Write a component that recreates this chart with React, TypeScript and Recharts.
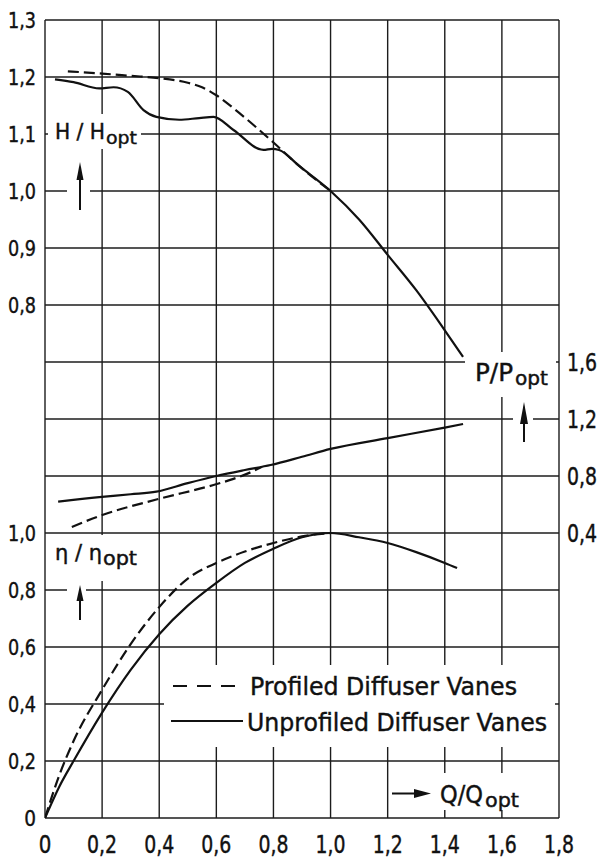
import { LineChart, Line, XAxis, YAxis, CartesianGrid } from 'recharts';

const FONT = "'DejaVu Sans Condensed', 'DejaVu Sans', sans-serif";
const INK = '#111';

// axis ticks
const qTicks = [0, 0.2, 0.4, 0.6, 0.8, 1.0, 1.2, 1.4, 1.6, 1.8];
const hTicks = [0.8, 0.9, 1.0, 1.1, 1.2, 1.3];
const etaTicks = [0, 0.2, 0.4, 0.6, 0.8, 1.0];
const pTicks = [0.4, 0.8, 1.2, 1.6];
const gridRows = [0, 1, 2, 3, 4, 5, 6, 7, 8, 9, 10, 11, 12, 13, 14];

// H/Hopt
const hProfiledQ = [0.08, 0.2, 0.3, 0.4, 0.5, 0.55, 0.6, 0.68, 0.8, 0.89, 1.0];
const hProfiled = [1.21, 1.206, 1.202, 1.198, 1.19, 1.182, 1.168, 1.137, 1.085, 1.044, 1.0];
const hUnprofiledQ = [0.035, 0.1, 0.19, 0.24, 0.29, 0.345, 0.39, 0.47, 0.54, 0.59, 0.66, 0.765, 0.795, 0.82, 0.89, 1.0, 1.1, 1.2, 1.3, 1.394, 1.464];
const hUnprofiled = [1.196, 1.191, 1.18, 1.182, 1.174, 1.142, 1.13, 1.125, 1.128, 1.13, 1.107, 1.072, 1.074, 1.072, 1.044, 1.0, 0.95, 0.888, 0.826, 0.76, 0.709];

// P/Popt
const pProfiledQ = [0.094, 0.19, 0.39, 0.59, 0.66, 0.72, 0.76];
const pProfiled = [0.442, 0.519, 0.635, 0.737, 0.78, 0.826, 0.864];
const pUnprofiledQ = [0.046, 0.19, 0.3, 0.39, 0.5, 0.6, 0.7, 0.79, 0.9, 1.0, 1.2, 1.4, 1.464];
const pUnprofiled = [0.62, 0.652, 0.672, 0.69, 0.75, 0.8, 0.842, 0.877, 0.935, 0.99, 1.066, 1.14, 1.165];

// eta/eta_opt
const etaProfiledQ = [0, 0.05, 0.1, 0.2, 0.3, 0.4, 0.5, 0.6, 0.7, 0.8, 0.9, 1.0];
const etaProfiled = [0, 0.15, 0.27, 0.45, 0.61, 0.74, 0.84, 0.895, 0.935, 0.965, 0.988, 1.0];
const etaUnprofiledQ = [0, 0.05, 0.1, 0.2, 0.3, 0.4, 0.5, 0.6, 0.7, 0.8, 0.9, 1.0, 1.1, 1.2, 1.3, 1.4, 1.443];
const etaUnprofiled = [0, 0.11, 0.2, 0.37, 0.52, 0.645, 0.745, 0.825, 0.895, 0.945, 0.985, 1.0, 0.985, 0.965, 0.933, 0.895, 0.877];

const zip = (qs: number[], vs: number[]) => qs.map((q, i) => ({ q, v: vs[i] }));

const fmt = (v: number) => (v === 0 ? '0' : v.toFixed(1).replace('.', ','));

const makeTick = (fs: number, dy: string, w3: number) => (props: any) => {
  const { x, y, payload, textAnchor } = props;
  const s = fmt(payload.value);
  return (
    <text
      x={x}
      y={y}
      dy={dy}
      textAnchor={textAnchor}
      fontSize={fs}
      fontFamily={FONT}
      fill={INK}
      stroke={INK}
      strokeWidth={0.4}
      textLength={s.length === 1 ? w3 * 0.42 : w3}
      lengthAdjust="spacingAndGlyphs"
    >
      {s}
    </text>
  );
};

function Sub({ x, y, main, sub, mw, sw, fs, sfs, gap = 1, drop = 5 }: any) {
  return (
    <g fill={INK} stroke={INK} strokeWidth={0.4} fontFamily={FONT}>
      <text x={x} y={y} fontSize={fs} textLength={mw} lengthAdjust="spacingAndGlyphs">{main}</text>
      <text x={x + mw + gap} y={y + drop} fontSize={sfs} textLength={sw} lengthAdjust="spacingAndGlyphs">{sub}</text>
    </g>
  );
}

function UpArrow({ x, tip, bottom, head, w }: any) {
  return (
    <g>
      <line x1={x} y1={tip + head - 2} x2={x} y2={bottom} stroke={INK} strokeWidth={2} />
      <polygon points={`${x},${tip} ${x - w},${tip + head} ${x + w},${tip + head}`} fill={INK} />
    </g>
  );
}

function Overlay() {
  return (
    <svg width={601} height={860} style={{ position: 'absolute', left: 0, top: 0, pointerEvents: 'none' }}>
      {/* white masks over the grid */}
      <rect x={48} y={114} width={93} height={35} fill="#fff" />
      <rect x={67} y={185} width={23} height={10} fill="#fff" />
      <rect x={465} y={352} width={91} height={45} fill="#fff" />
      <rect x={513} y={414} width={20} height={10} fill="#fff" />
      <rect x={47} y={535} width={105} height={46} fill="#fff" />
      <rect x={67} y={585} width={19} height={10} fill="#fff" />
      <rect x={164} y={665} width={391} height={82} fill="#fff" />
      <rect x={392} y={773} width={163} height={37} fill="#fff" />

      <Sub x={55} y={139} main="H / H" sub="opt" mw={50} sw={31} fs={21} sfs={18} drop={5} />
      <UpArrow x={80} tip={162} bottom={210} head={18} w={3.5} />

      <Sub x={475} y={381} main="P/P" sub="opt" mw={38} sw={33} fs={25} sfs={20} gap={2} drop={4} />
      <UpArrow x={524} tip={402} bottom={442} head={22} w={4} />

      <Sub x={55} y={560} main="η / η" sub="opt" mw={47} sw={34} fs={22} sfs={19} drop={5} />
      <UpArrow x={80} tip={585} bottom={620} head={16} w={3.5} />

      <line x1={392} y1={793.5} x2={418} y2={793.5} stroke={INK} strokeWidth={2} />
      <polygon points="431,793.5 414,789 414,798" fill={INK} />
      <Sub x={440} y={803} main="Q/Q" sub="opt" mw={43} sw={34} fs={25} sfs={20} gap={2} drop={4} />

      {/* legend */}
      <line x1={173} y1={686} x2={242} y2={686} stroke={INK} strokeWidth={2} strokeDasharray="14 10" />
      <text x={250} y={695} fontSize={25} fontFamily={FONT} fill={INK} stroke={INK} strokeWidth={0.4} textLength={267} lengthAdjust="spacingAndGlyphs">Profiled Diffuser Vanes</text>
      <line x1={171} y1={721} x2={243} y2={721} stroke={INK} strokeWidth={2} />
      <text x={247} y={731} fontSize={25} fontFamily={FONT} fill={INK} stroke={INK} strokeWidth={0.4} textLength={300} lengthAdjust="spacingAndGlyphs">Unprofiled Diffuser Vanes</text>
    </svg>
  );
}

export default function App() {
  const line = { type: 'monotone' as const, dataKey: 'v', stroke: INK, strokeWidth: 2.2, dot: false, isAnimationActive: false };
  const yCommon = { type: 'number' as const, interval: 0, width: 1, tickSize: 0, axisLine: false, tickLine: false, allowDataOverflow: true };

  return (
    <div style={{ position: 'relative', width: 601, height: 860, background: '#fff' }}>
      <style>{'body{margin:0;background:#fff}'}</style>
      <LineChart width={601} height={860} margin={{ top: 20, right: 41, bottom: 12, left: 43 }}>
        <CartesianGrid yAxisId="grid" stroke="#1c1c1c" strokeWidth={1.4} />
        <XAxis
          dataKey="q"
          type="number"
          domain={[0, 1.8]}
          ticks={qTicks}
          interval={0}
          height={30}
          tickSize={0}
          tickMargin={18}
          axisLine={false}
          tickLine={false}
          tick={makeTick(24, '0.71em', 30)}
          allowDataOverflow
        />
        <YAxis yAxisId="grid" hide type="number" domain={[0, 14]} ticks={gridRows} reversed allowDataOverflow />
        <YAxis {...yCommon} yAxisId="eta" domain={[0, 2.8]} ticks={etaTicks} tickMargin={8} tick={makeTick(22, '0.36em', 28)} />
        <YAxis {...yCommon} yAxisId="H" domain={[-0.1, 1.3]} ticks={hTicks} tickMargin={9} tick={makeTick(22, '0.36em', 28)} />
        <YAxis {...yCommon} yAxisId="P" orientation="right" domain={[-1.6, 4.0]} ticks={pTicks} tickMargin={8} tick={makeTick(24, '0.36em', 30)} />
        <Line {...line} yAxisId="H" data={zip(hUnprofiledQ, hUnprofiled)} />
        <Line {...line} yAxisId="H" data={zip(hProfiledQ, hProfiled)} strokeDasharray="11 5" />
        <Line {...line} yAxisId="P" data={zip(pUnprofiledQ, pUnprofiled)} />
        <Line {...line} yAxisId="P" data={zip(pProfiledQ, pProfiled)} strokeDasharray="11 5" />
        <Line {...line} yAxisId="eta" data={zip(etaUnprofiledQ, etaUnprofiled)} />
        <Line {...line} yAxisId="eta" data={zip(etaProfiledQ, etaProfiled)} strokeDasharray="11 5" />
      </LineChart>
      <Overlay />
    </div>
  );
}
